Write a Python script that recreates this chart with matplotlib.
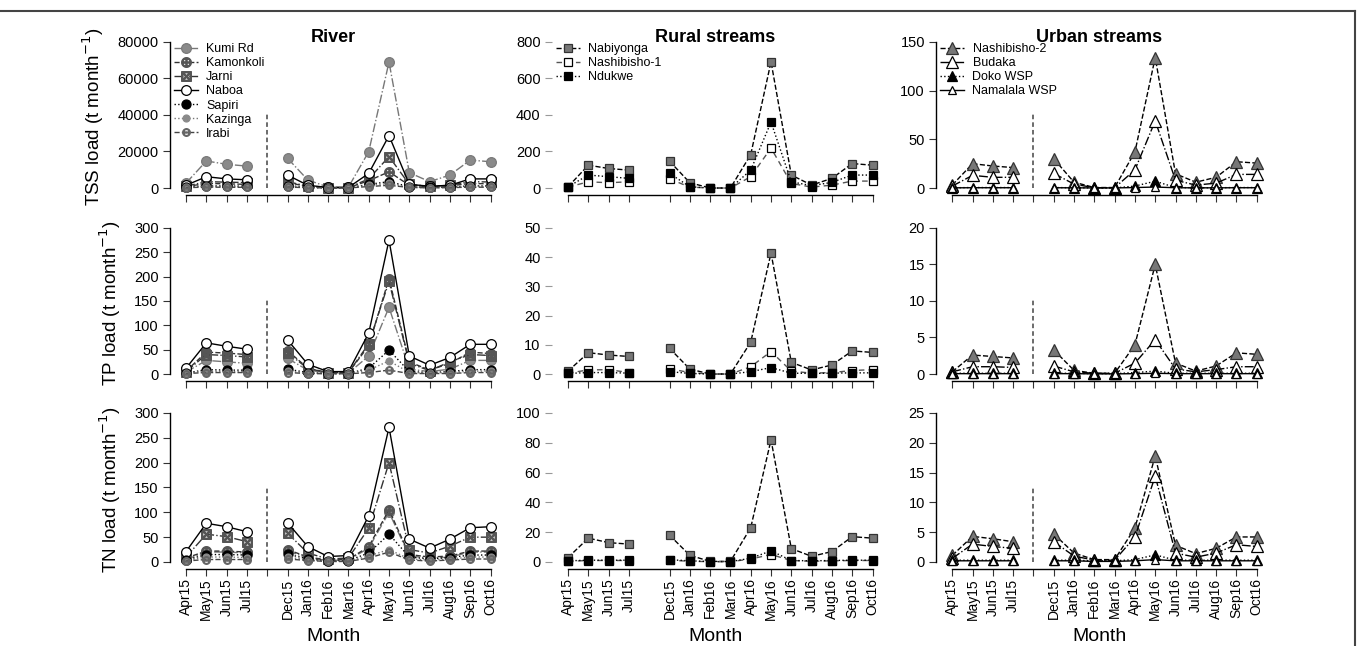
import numpy as np
import matplotlib
matplotlib.use("Agg")
import matplotlib.pyplot as plt
from matplotlib.lines import Line2D

plt.rcParams['font.family'] = ['Liberation Sans', 'DejaVu Sans']
plt.rcParams['mathtext.fontset'] = 'dejavusans'

months = ["Apr15", "May15", "Jun15", "Jul15", "Dec15", "Jan16", "Feb16", "Mar16",
          "Apr16", "May16", "Jun16", "Jul16", "Aug16", "Sep16", "Oct16"]

# ---------------- River ----------------
river_sites = ["Kumi Rd", "Kamonkoli", "Jarni", "Naboa", "Sapiri", "Kazinga", "Irabi"]
river_tss = {
    "Kumi Rd":   [2700, 14800, 13000, 12000, 16300, 4400, 500, 500, 19900, 69000, 8400, 3500, 7100, 15300, 14400],
    "Kamonkoli": [800, 2500, 2300, 2000, 3000, 800, 200, 200, 4000, 8900, 1500, 700, 1200, 2500, 2300],
    "Jarni":     [1000, 3500, 3200, 3000, 3500, 1000, 200, 200, 5000, 17200, 2000, 900, 1500, 3500, 3300],
    "Naboa":     [1500, 6200, 5000, 4500, 7100, 1500, 300, 300, 8000, 28700, 2000, 1000, 1500, 5000, 5000],
    "Sapiri":    [500, 1200, 1100, 1000, 1300, 400, 100, 100, 2000, 3500, 700, 300, 500, 1200, 1100],
    "Kazinga":   [400, 1000, 900, 800, 1000, 300, 100, 100, 1500, 2500, 500, 200, 400, 1000, 900],
    "Irabi":     [200, 500, 400, 400, 500, 200, 50, 50, 800, 1500, 300, 100, 200, 500, 400],
}
river_tp = {
    "Kumi Rd":   [4, 28, 25, 22, 32, 8, 2, 2, 37, 137, 10, 5, 10, 28, 28],
    "Kamonkoli": [6, 45, 43, 40, 48, 12, 3, 3, 58, 196, 25, 8, 22, 45, 42],
    "Jarni":     [5, 40, 38, 35, 44, 11, 3, 3, 62, 190, 22, 7, 25, 40, 38],
    "Naboa":     [12, 64, 57, 51, 70, 20, 5, 5, 84, 275, 37, 18, 34, 61, 61],
    "Sapiri":    [2, 9, 8, 8, 10, 3, 1, 1, 12, 49, 5, 3, 5, 9, 9],
    "Kazinga":   [2, 6, 5, 5, 6, 2, 1, 1, 8, 27, 3, 2, 3, 6, 6],
    "Irabi":     [1, 3, 3, 3, 3, 1, 0.5, 0.5, 3, 8, 1, 1, 1, 3, 3],
}
river_tn = {
    "Kumi Rd":   [5, 20, 20, 18, 22, 8, 3, 4, 28, 100, 12, 8, 10, 20, 20],
    "Kamonkoli": [8, 22, 22, 20, 25, 10, 4, 5, 31, 105, 15, 10, 12, 22, 22],
    "Jarni":     [10, 56, 51, 41, 58, 18, 6, 8, 68, 200, 25, 18, 32, 50, 50],
    "Naboa":     [21, 78, 71, 61, 79, 31, 11, 13, 93, 271, 46, 28, 46, 69, 71],
    "Sapiri":    [4, 15, 15, 14, 16, 6, 2, 3, 18, 56, 10, 6, 9, 14, 14],
    "Kazinga":   [3, 10, 10, 9, 10, 4, 2, 2, 12, 25, 6, 4, 6, 10, 10],
    "Irabi":     [2, 5, 5, 5, 6, 3, 1, 1, 8, 20, 4, 2, 4, 6, 6],
}

# ---------------- Rural streams ----------------
rural_sites = ["Nabiyonga", "Nashibisho-1", "Ndukwe"]
rural_tss = {
    "Nabiyonga":    [7, 125, 107, 98, 147, 29, 0, 0, 183, 691, 71, 16, 53, 134, 125],
    "Nashibisho-1": [5, 34, 29, 34, 50, 5, 0, 0, 62, 219, 25, 5, 16, 38, 38],
    "Ndukwe":       [7, 71, 62, 53, 80, 7, 0, 0, 98, 361, 34, 13, 31, 71, 71],
}
rural_tp = {
    "Nabiyonga":    [1.0, 7.3, 6.5, 6.0, 8.8, 1.7, 0, 0, 10.9, 41.4, 4.0, 1.4, 3.1, 7.9, 7.4],
    "Nashibisho-1": [0.3, 1.4, 1.5, 0.5, 1.8, 0.5, 0, 0, 2.5, 7.7, 1.0, 0.3, 0.5, 1.2, 1.5],
    "Ndukwe":       [0.2, 0.5, 0.5, 0.3, 0.8, 0.2, 0, 0, 0.8, 2.2, 0.3, 0.2, 0.3, 0.4, 0.4],
}
rural_tn = {
    "Nabiyonga":    [3, 16, 13, 12, 18, 4.5, 0.4, 0.4, 23, 82, 9, 3.8, 7, 17, 16],
    "Nashibisho-1": [0.5, 1, 1, 1, 1.2, 0.5, 0.2, 0.2, 2, 5, 1, 0.5, 0.8, 1, 1],
    "Ndukwe":       [0.8, 1.2, 1.2, 1.2, 1.5, 0.8, 0.3, 0.3, 2.5, 7.5, 1, 0.8, 1, 1.2, 1.2],
}

# ---------------- Urban streams ----------------
urban_sites = ["Nashibisho-2", "Budaka", "Doko WSP", "Namalala WSP"]
urban_tss = {
    "Nashibisho-2": [3, 25, 22.6, 21, 30, 6, 0.5, 0.5, 37, 134, 14.6, 6, 11, 27, 25.6],
    "Budaka":       [2, 13, 11, 11, 15, 4, 0.3, 0.3, 18.6, 69, 8, 3, 5, 14, 14],
    "Doko WSP":     [0.3, 0.5, 0.5, 0.5, 0.5, 0.3, 0.1, 0.1, 2, 7, 0.5, 0.3, 0.3, 0.5, 0.5],
    "Namalala WSP": [0.2, 0.3, 0.3, 0.3, 0.3, 0.2, 0.1, 0.1, 0.5, 1, 0.3, 0.2, 0.2, 0.3, 0.3],
}
urban_tp = {
    "Nashibisho-2": [0.3, 2.6, 2.4, 2.2, 3.3, 0.5, 0.1, 0.1, 4.0, 15, 1.5, 0.4, 1.1, 2.9, 2.7],
    "Budaka":       [0.3, 1.0, 1.0, 0.9, 1.1, 0.3, 0.1, 0.1, 1.5, 4.7, 0.7, 0.3, 0.6, 1.0, 1.0],
    "Doko WSP":     [0.1, 0.1, 0.1, 0.1, 0.1, 0.1, 0.05, 0.05, 0.2, 0.4, 0.1, 0.1, 0.1, 0.1, 0.1],
    "Namalala WSP": [0.05, 0.05, 0.05, 0.05, 0.05, 0.05, 0.02, 0.02, 0.05, 0.1, 0.05, 0.05, 0.05, 0.05, 0.05],
}
urban_tn = {
    "Nashibisho-2": [1.1, 4.3, 3.9, 3.4, 4.7, 1.5, 0.4, 0.4, 5.7, 17.8, 2.8, 1.4, 2.3, 4.2, 4.2],
    "Budaka":       [0.6, 3.0, 2.6, 2.3, 3.4, 1.0, 0.3, 0.3, 4.2, 14.4, 1.5, 0.8, 1.5, 2.9, 2.6],
    "Doko WSP":     [0.3, 0.3, 0.3, 0.3, 0.3, 0.3, 0.2, 0.2, 0.4, 1.2, 0.3, 0.3, 0.3, 0.3, 0.3],
    "Namalala WSP": [0.2, 0.2, 0.2, 0.2, 0.2, 0.2, 0.1, 0.1, 0.2, 0.4, 0.2, 0.2, 0.2, 0.2, 0.2],
}

GREY = "#8a8a8a"
styles = {
    "Kumi Rd":      dict(marker="o", ms=7, mfc=GREY, mec="#7a7a7a", ls="-.", color="#777777"),
    "Kamonkoli":    dict(marker=r"$\oplus$", ms=7, mfc="#555555", mec="#555555", ls="--", color="#333333"),
    "Jarni":        dict(marker=r"$\boxtimes$", ms=7, mfc="#555555", mec="#555555", ls="-.", color="#333333"),
    "Naboa":        dict(marker="o", ms=7, mfc="white", mec="black", ls="-", color="black"),
    "Sapiri":       dict(marker="o", ms=6.5, mfc="black", mec="black", ls=":", color="black"),
    "Kazinga":      dict(marker="o", ms=5, mfc=GREY, mec=GREY, ls=":", color="#777777"),
    "Irabi":        dict(marker=r"$\ominus$", ms=5.5, mfc="#666666", mec="#666666", ls="--", color="#444444"),
    "Nabiyonga":    dict(marker="s", ms=6, mfc="#777777", mec="#333333", ls="--", color="black"),
    "Nashibisho-1": dict(marker="s", ms=6, mfc="white", mec="black", ls=(0, (4, 3)), color="#555555"),
    "Ndukwe":       dict(marker="s", ms=6, mfc="black", mec="black", ls=":", color="black"),
    "Nashibisho-2": dict(marker="^", ms=8, mfc="#777777", mec="#333333", ls="--", color="black"),
    "Budaka":       dict(marker="^", ms=8, mfc="white", mec="black", ls="-.", color="black"),
    "Doko WSP":     dict(marker="^", ms=7, mfc="black", mec="black", ls=":", color="black"),
    "Namalala WSP": dict(marker="^", ms=6, mfc="white", mec="black", ls="-", color="black"),
}

W, H = 1360, 646
fig = plt.figure(figsize=(W / 100, H / 100), dpi=100)

xpos_all = np.arange(16)
gap = 4
pos = np.array([p for p in xpos_all if p != gap])

def with_gap(vals):
    v = list(vals)
    return np.array(v[:4] + [np.nan] + v[4:], dtype=float)

col_px = [(169.8, 496.6), (551.8, 878.6), (936.0, 1262.8)]
row_px = [(39.0, 194.6), (225.0, 380.6), (410.0, 568.7)]

panels = [
    [(river_tss, river_sites, 80000, 20000), (rural_tss, rural_sites, 800, 200), (urban_tss, urban_sites, 150, 50)],
    [(river_tp, river_sites, 300, 50), (rural_tp, rural_sites, 50, 10), (urban_tp, urban_sites, 20, 5)],
    [(river_tn, river_sites, 300, 50), (rural_tn, rural_sites, 100, 20), (urban_tn, urban_sites, 25, 5)],
]
ylabels = ["TSS load (t month$^{-1}$)", "TP load (t month$^{-1}$)", "TN load (t month$^{-1}$)"]
titles = ["River", "Rural streams", "Urban streams"]

for r in range(3):
    for c in range(3):
        data, sites, ymax, ystep = panels[r][c]
        l, rr = col_px[c]
        t, b = row_px[r]
        ax = fig.add_axes([l / W, 1 - b / H, (rr - l) / W, (b - t) / H])
        ax.set_xlim(-0.8, 15.3)
        ax.set_ylim(-0.045 * ymax, 1.02 * ymax)
        for s in sites:
            st = styles[s]
            ax.plot(xpos_all, with_gap(data[s]), marker=st["marker"], ms=st["ms"],
                    mfc=st["mfc"], mec=st["mec"], mew=0.9, ls=st["ls"],
                    color=st["color"], lw=1.0, label=s, clip_on=False)
        if c != 1:
            ax.plot([gap, gap], [0, 0.51 * ymax], ls=(0, (3, 2)), color="#444444", lw=1.1)
            xt = xpos_all
        else:
            xt = pos
        ax.set_xticks(xt)
        if r == 2:
            labs = []
            for p in xt:
                labs.append("" if p == gap else months[p if p < gap else p - 1])
            ax.set_xticklabels(labs, rotation=90, fontsize=10)
            ax.set_xlabel("Month", fontsize=14, labelpad=6)
        else:
            ax.set_xticklabels([])
        ax.set_yticks(np.arange(0, ymax + ystep / 2, ystep))
        ax.tick_params(axis="y", labelsize=10.5, length=5, width=0.8, pad=3, color="#333333")
        ax.tick_params(axis="x", length=5, width=0.8, pad=2, color="#333333")
        for sp in ["top", "right"]:
            ax.spines[sp].set_visible(False)
        ax.spines["bottom"].set_bounds(0, 15)
        ax.spines["left"].set_bounds(0, ymax)
        ax.spines["bottom"].set_linewidth(1.0)
        ax.spines["left"].set_linewidth(1.0)
        if c == 1:
            ax.spines["left"].set_visible(False)
            ax.tick_params(axis="y", color="#999999")
        ax.patch.set_alpha(0)
        if c == 0:
            ax.set_ylabel(ylabels[r], fontsize=13.5, labelpad=8)
        if r == 0:
            ax.text(0.5 * (l + rr) / W + 0.0, 1 - 37 / H, titles[c], transform=fig.transFigure,
                    ha="center", va="center", fontsize=13, fontweight="bold")
            leg = ax.legend(loc="upper left", bbox_to_anchor=(4 / (rr - l), 1 - (43 - t) / (b - t)),
                            frameon=False, fontsize=9, handlelength=1.9, handletextpad=0.7,
                            labelspacing=0.17, borderpad=0, borderaxespad=0)

# frame lines of the figure
fig.add_artist(Line2D([0, 1355 / W], [1 - 11 / H, 1 - 11 / H], transform=fig.transFigure,
                      color="#444444", lw=1.5))
fig.add_artist(Line2D([1355 / W, 1355 / W], [1 - 11 / H, 0], transform=fig.transFigure,
                      color="#444444", lw=1.5))

fig.savefig("out.png", dpi=100)
